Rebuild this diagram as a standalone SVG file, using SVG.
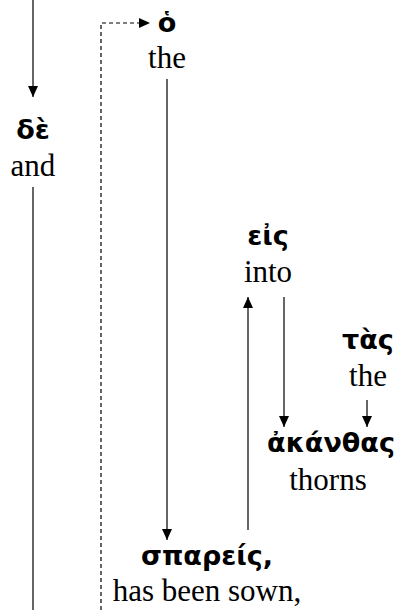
<svg xmlns="http://www.w3.org/2000/svg" width="398" height="610" viewBox="0 0 398 610">
<style>
.gk{font-family:"DejaVu Sans",sans-serif;font-weight:bold;font-size:27px;text-anchor:middle;fill:#000}
.en{font-family:"Liberation Serif","Times New Roman",serif;font-size:31px;text-anchor:middle;fill:#000}
.ln{stroke:#333;stroke-width:1.5;fill:none}
.ds{stroke:#000;stroke-width:1.2;fill:none;stroke-dasharray:4 3}
</style>
<defs>
<marker id="ah" markerUnits="userSpaceOnUse" markerWidth="12" markerHeight="11" refX="11" refY="5" orient="auto">
<path d="M0,0 L11,5 L0,10 z" fill="#000"/>
</marker>
</defs>
<g id="connectors">
<line class="ln" x1="33" y1="0" x2="33" y2="97" marker-end="url(#ah)"/>
<line class="ln" x1="33" y1="187" x2="33" y2="610"/>
<path class="ds" d="M101,610 L101,23 L150,23" marker-end="url(#ah)"/>
<line class="ln" x1="167" y1="79" x2="167" y2="540" marker-end="url(#ah)"/>
<line class="ln" x1="248" y1="530" x2="248" y2="297" marker-end="url(#ah)"/>
<line class="ln" x1="284" y1="297" x2="284" y2="427" marker-end="url(#ah)"/>
<line class="ln" x1="367" y1="400" x2="367" y2="427" marker-end="url(#ah)"/>
</g>
<g id="n-de"><text class="gk" x="33" y="139">δὲ</text><text class="en" x="33" y="176">and</text></g>
<g id="n-ho"><text class="gk" x="167" y="32">ὁ</text><text class="en" x="167" y="68">the</text></g>
<g id="n-eis"><text class="gk" x="268" y="245">εἰς</text><text class="en" x="268" y="282">into</text></g>
<g id="n-tas"><text class="gk" x="368" y="349">τὰς</text><text class="en" x="368" y="386">the</text></g>
<g id="n-akanthas"><text class="gk" x="331" y="452">ἀκάνθας</text><text class="en" x="328" y="490">thorns</text></g>
<g id="n-spareis"><text class="gk" x="207" y="565">σπαρείς,</text><text class="en" x="207" y="601">has been sown,</text></g>
</svg>
